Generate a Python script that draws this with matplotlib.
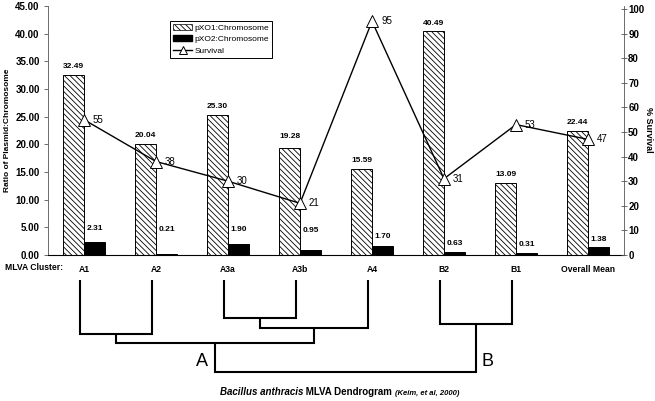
import matplotlib.pyplot as plt
import numpy as np
from matplotlib.patches import Patch
from matplotlib.lines import Line2D

plt.rcParams['font.family'] = ['Liberation Sans', 'DejaVu Sans']
plt.rcParams['hatch.linewidth'] = 0.6

# values
clusters = ['A1', 'A2', 'A3a', 'A3b', 'A4', 'B2', 'B1', 'Overall Mean']
pxo1 = [32.49, 20.04, 25.30, 19.28, 15.59, 40.49, 13.09, 22.44]
pxo2 = [2.31, 0.21, 1.90, 0.95, 1.70, 0.63, 0.31, 1.38]
survival = [55, 38, 30, 21, 95, 31, 53, 47]

# dendrogram (Keim et al, 2000) - link heights in px below the bar axis
leaf_top = 25
merge_h = {'A1A2': 79, 'A3': 63, 'A3A4': 73, 'A': 88, 'B': 69, 'root': 117}

# label offsets (px above bar tops)
pad1 = [9, 9, 9, 12, 8, 7, 8, 8]
pad2 = [14, 24, 15, 19, 9, 8, 9, 8]

hatch = '\\' * 6

W, H = 655, 401
fig = plt.figure(figsize=(W / 100, H / 100), dpi=100)
ax = fig.add_axes([48 / W, 1 - 255 / H, 576 / W, 249 / H])

x = np.arange(len(clusters))
bw = 0.29
ax.bar(x - bw / 2, pxo1, bw, color='white', edgecolor='black', lw=0.7, hatch=hatch)
ax.bar(x + bw / 2, pxo2, bw, color='black', edgecolor='black', lw=0.7)

for i in range(len(x)):
    ax.annotate(f'{pxo1[i]:.2f}', (x[i] - bw / 2, pxo1[i]), xytext=(0, pad1[i]),
                textcoords='offset pixels', ha='center', va='center',
                fontsize=6, fontweight='bold')
    ax.annotate(f'{pxo2[i]:.2f}', (x[i] + bw / 2, pxo2[i]), xytext=(0, pad2[i]),
                textcoords='offset pixels', ha='center', va='center',
                fontsize=6, fontweight='bold')

ax.set_xlim(-0.5, 7.5)
ax.set_ylim(0, 45)
ax.set_yticks(np.arange(0, 46, 5))
ax.set_yticklabels([f'{v:.2f}' for v in np.arange(0, 46, 5)])
ax.set_xticks(x)
ax.set_xticklabels(clusters)
ax.tick_params(axis='y', direction='out', length=3, width=0.6, labelsize=7, pad=3, color='#555555')
ax.tick_params(axis='x', length=0, labelsize=6.2, pad=7)
for lab in ax.get_yticklabels() + ax.get_xticklabels():
    lab.set_fontweight('bold')
for s in ['top', 'right']:
    ax.spines[s].set_visible(False)
ax.spines['left'].set_color('#555555')
ax.spines['left'].set_linewidth(0.6)
ax.spines['bottom'].set_linewidth(0.8)

# survival on the right axis
ax2 = ax.twinx()
ax2.plot(x, survival, color='black', lw=1.0, marker='^', ms=8,
         mfc='white', mec='black', mew=0.7)
for i in range(len(x)):
    ax2.annotate(str(survival[i]), (x[i], survival[i]), xytext=(9, 0),
                 textcoords='offset pixels', ha='left', va='center', fontsize=7)
ax2.set_ylim(0, 101.2)
ax2.set_yticks(np.arange(0, 101, 10))
ax2.tick_params(axis='y', direction='inout', length=4, width=0.6, labelsize=7, pad=1, color='#555555')
for lab in ax2.get_yticklabels():
    lab.set_fontweight('bold')
for s in ['top', 'left', 'bottom']:
    ax2.spines[s].set_visible(False)
ax2.spines['right'].set_color('#555555')
ax2.spines['right'].set_linewidth(0.6)

handles = [Patch(facecolor='white', edgecolor='black', hatch=hatch, lw=0.5),
           Patch(facecolor='black', edgecolor='black'),
           Line2D([], [], color='black', lw=1.0, marker='^', ms=6, mfc='white', mec='black', mew=0.7)]
leg = ax2.legend(handles, ['pXO1:Chromosome', 'pXO2:Chromosome', 'Survival'],
                 loc='upper left', bbox_to_anchor=(170 / W, 1 - 21 / H),
                 bbox_transform=fig.transFigure, fontsize=6, frameon=True,
                 fancybox=False, edgecolor='black', framealpha=1, borderpad=0.35,
                 handlelength=2.3, handleheight=0.7, labelspacing=0.45,
                 handletextpad=0.3, borderaxespad=0)
leg.get_frame().set_linewidth(0.7)

fig.text(8 / W, 1 - 130 / H, 'Ratio of Plasmid:Chromosome', rotation=90,
         ha='center', va='center', fontsize=6, fontweight='bold')
fig.text(648 / W, 1 - 130 / H, '% Survival', rotation=270,
         ha='center', va='center', fontsize=6.5, fontweight='bold')
fig.text(5 / W, 1 - 268 / H, 'MLVA Cluster:', ha='left', va='center',
         fontsize=6.2, fontweight='bold')

# dendrogram underneath
dax = fig.add_axes([48 / W, 0, 576 / W, 146 / H])
dax.set_xlim(-0.5, 7.5)
dax.set_ylim(146, 0)
dax.axis('off')


def link(a, b, h):
    (xa, ya), (xb, yb) = a, b
    dax.plot([xa, xa, xb, xb], [ya, h, h, yb], color='black', lw=1.5,
             solid_capstyle='butt', solid_joinstyle='miter')
    return ((xa + xb) / 2, h)


leaves = {c: (x[i] - 0.05, leaf_top) for i, c in enumerate(clusters[:7])}
n12 = link(leaves['A1'], leaves['A2'], merge_h['A1A2'])
n3 = link(leaves['A3a'], leaves['A3b'], merge_h['A3'])
n34 = link(n3, leaves['A4'], merge_h['A3A4'])
nA = link(n12, n34, merge_h['A'])
nB = link(leaves['B2'], leaves['B1'], merge_h['B'])
root = link(nA, nB, merge_h['root'])

dax.text(nA[0] - 0.1, root[1] - 10, 'A', ha='right', va='center', fontsize=13)
dax.text(nB[0] + 0.07, root[1] - 10, 'B', ha='left', va='center', fontsize=13)

# caption in three styles
t1 = fig.text(220 / W, 1 - 392 / H, 'Bacillus anthracis', ha='left', va='center',
              fontsize=7, fontweight='bold', style='italic')
t2 = fig.add_artist(plt.Annotation(' MLVA Dendrogram ', xy=(1, 0), xycoords=t1,
                                   ha='left', va='bottom', fontsize=7, fontweight='bold'))
fig.add_artist(plt.Annotation('(Keim, et al, 2000)', xy=(1, 0), xycoords=t2,
                              ha='left', va='bottom', fontsize=5.5,
                              fontweight='bold', style='italic'))

fig.savefig('out.png', dpi=100)
